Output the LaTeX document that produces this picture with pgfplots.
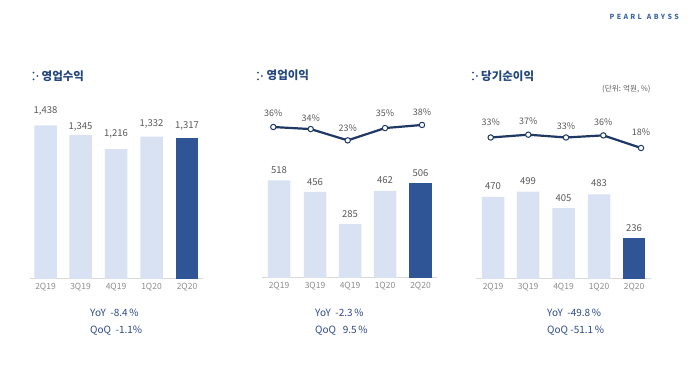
\documentclass[border=0pt]{standalone}
\usepackage{fontspec}
\setmainfont{Noto Sans CJK KR}
\usepackage{pgfplots}
\pgfplotsset{compat=1.18}
\definecolor{lightbar}{HTML}{D9E2F3}
\definecolor{darkbar}{HTML}{2F5597}
\definecolor{navy}{HTML}{1F3864}
\definecolor{titleblue}{HTML}{24477F}
\definecolor{lblgray}{HTML}{595959}
\definecolor{tickgray}{HTML}{8C8C8C}
\definecolor{axisgray}{HTML}{D9D9D9}
\definecolor{yoyblue}{HTML}{2F4B8A}
\definecolor{brandblue}{HTML}{3B67A8}
\pgfplotsset{
  barax/.style={scale only axis, anchor=south west, ymin=0, enlargelimits=false,
    axis x line*=bottom, axis y line=none, clip=false,
    x axis line style={axisgray, line width=1pt, -},
    major tick length=0pt,
    xticklabel style={font=\fontsize{8.5}{10}\selectfont, text=tickgray, yshift=-1pt},
    xticklabels={2Q19,3Q19,4Q19,1Q20,2Q20},
    ybar, bar width=22.5pt,
    nodes near coords, point meta=explicit symbolic,
    every node near coord/.append style={font=\fontsize{9.5}{11}\selectfont, text=lblgray, anchor=center}},
  linax/.style={scale only axis, anchor=south west, ymin=0, ymax=50, enlargelimits=false,
    hide axis, clip=false,
    nodes near coords, point meta=explicit symbolic,
    every node near coord/.append style={font=\fontsize{9}{11}\selectfont, text=lblgray, anchor=center}},
  shifted/.style={visualization depends on={\thisrow{dy}\as\dy},
    every node near coord/.append style={yshift=\dy pt}},
  mline/.style={navy, line width=2.2pt, mark=*, mark size=2.7pt, mark options={fill=white, draw=navy, line width=1pt}},
}
\begin{document}
\begin{tikzpicture}[x=1pt,y=1pt]
\path[fill=white] (0,0) rectangle (700,371);
\coordinate (A1) at (30,92);
\coordinate (A2) at (262,93);
\coordinate (L2) at (262,207);
\coordinate (A3) at (476,92);
\coordinate (L3) at (476,210.4);

% ---------- Panel 1 : 영업수익
\begin{axis}[barax, at={(A1)}, width=173pt, height=160.35pt,
  xmin=30, xmax=203, ymax=1500, xtick={45.5,80.5,116,151.5,187}]
\addplot[fill=lightbar, draw=none, bar shift=0pt, shifted] table[x=x, y=y, meta=lab] {
x y lab dy
45.5 1438 1,438 14.5
80.5 1345 1,345 8.5
116 1216 1,216 15.5
151.5 1332 1,332 13
};
\addplot[fill=darkbar, draw=none, bar shift=0pt, shifted] table[x=x, y=y, meta=lab] {
x y lab dy
187 1317 1,317 12.5
};
\end{axis}

% ---------- Panel 2 : 영업이익
\begin{axis}[barax, at={(A2)}, width=175pt, height=113.16pt,
  xmin=262, xmax=437, ymax=600, xtick={279,315,350,385,420.5}]
\addplot[fill=lightbar, draw=none, bar shift=0pt, shifted] table[x=x, y=y, meta=lab] {
x y lab dy
279 518 518 10
315 456 456 10.3
350 285 285 10
385 462 462 10.7
};
\addplot[fill=darkbar, draw=none, bar shift=0pt, shifted] table[x=x, y=y, meta=lab] {
x y lab dy
420.5 506 506 9.5
};
\end{axis}
\begin{axis}[linax, at={(L2)}, width=175pt, height=51.35pt, xmin=262, xmax=437]
\addplot[mline, shifted] table[x=x, y=y, meta=lab] {
x y lab dy
273.3 36 36\% 14
310.7 34 34\% 11
347.7 23 23\% 12
385 35 35\% 14.5
422 38 38\% 12.6
};
\end{axis}

% ---------- Panel 3 : 당기순이익
\begin{axis}[barax, at={(A3)}, width=175pt, height=105pt,
  xmin=476, xmax=651, ymax=600, xtick={493,528,563.5,599,634}]
\addplot[fill=lightbar, draw=none, bar shift=0pt, shifted] table[x=x, y=y, meta=lab] {
x y lab dy
493 470 470 11
528 499 499 11
563.5 405 405 10
599 483 483 11.5
};
\addplot[fill=darkbar, draw=none, bar shift=0pt, shifted] table[x=x, y=y, meta=lab] {
x y lab dy
634 236 236 10
};
\end{axis}
\begin{axis}[linax, at={(L3)}, width=175pt, height=35pt, xmin=476, xmax=651]
\addplot[mline, shifted] table[x=x, y=y, meta=lab] {
x y lab dy
490.7 33 33\% 15.5
528.3 37 37\% 13.7
566 33 33\% 11.6
603.3 36 36\% 13.6
641 18 18\% 15.3
};
\end{axis}

% ---------- titles
\foreach \ix in {33.5,258,473}{
  \fill[titleblue] (\ix,298.4) circle (1);
  \fill[titleblue] (\ix+3.8,295) circle (1);
  \fill[titleblue] (\ix,291.6) circle (1);
}
\node[anchor=west, inner sep=0, text=titleblue, font=\fontsize{11.5}{13}\selectfont\bfseries] at (41.5,295) {영업수익};
\node[anchor=west, inner sep=0, text=titleblue, font=\fontsize{11.5}{13}\selectfont\bfseries] at (266.5,295.5) {영업이익};
\node[anchor=west, inner sep=0, text=titleblue, font=\fontsize{11.5}{13}\selectfont\bfseries] at (481,294.5) {당기순이익};
\node[anchor=west, inner sep=0, text=lblgray, font=\fontsize{7.6}{9}\selectfont] at (602,282) {(단위: 억원, \%)};

% ---------- YoY / QoQ
\node[anchor=west, inner sep=0, text=yoyblue, font=\fontsize{10}{12}\selectfont] at (90,58) {YoY\ \ -8.4\,\%};
\node[anchor=west, inner sep=0, text=yoyblue, font=\fontsize{10}{12}\selectfont] at (90,40.5) {QoQ\ \ -1.1\%};
\node[anchor=west, inner sep=0, text=yoyblue, font=\fontsize{10}{12}\selectfont] at (315,58) {YoY\ \ -2.3\,\%};
\node[anchor=west, inner sep=0, text=yoyblue, font=\fontsize{10}{12}\selectfont] at (315,40.5) {QoQ\ \ \ 9.5\,\%};
\node[anchor=west, inner sep=0, text=yoyblue, font=\fontsize{10}{12}\selectfont] at (547,58) {YoY\ \ -49.8\,\%};
\node[anchor=west, inner sep=0, text=yoyblue, font=\fontsize{10}{12}\selectfont] at (547,40.5) {QoQ\ -51.1\,\%};

% ---------- brand
\node[anchor=west, inner sep=0, text=brandblue, font=\fontsize{7}{8}\selectfont\bfseries] at (609.5,354)
  {P\kern2.3pt E\kern2.3pt A\kern2.3pt R\kern2.3pt L\kern5pt A\kern2.3pt B\kern2.3pt Y\kern2.3pt S\kern2.3pt S};
\end{tikzpicture}
\end{document}
